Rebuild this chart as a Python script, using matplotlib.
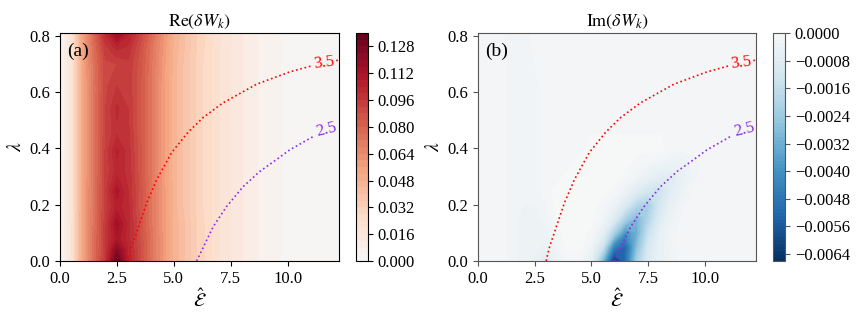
import numpy as np
import matplotlib
matplotlib.use("Agg")
import matplotlib.pyplot as plt
from matplotlib.colors import ListedColormap

plt.rcParams['font.family'] = ['Liberation Serif', 'DejaVu Serif']
plt.rcParams['mathtext.fontset'] = 'stix'

# ---------------- data ----------------
# Re(dW_k) grid
re_x = [0.0, 0.5, 1.0, 1.5, 2.0, 2.5, 3.0, 3.5, 4.0, 4.5, 5.0, 6.0, 7.0, 8.0, 9.0, 10.0, 12.25]
re_lam = [0.0, 0.04, 0.08, 0.13, 0.19, 0.25, 0.32, 0.39, 0.46, 0.54, 0.62, 0.70, 0.76, 0.81]
re_vals = [
    [0.001, 0.018, 0.053, 0.075, 0.097, 0.134, 0.104, 0.089, 0.074, 0.060, 0.047, 0.032, 0.020, 0.012, 0.006, 0.003, 0.001],
    [0.001, 0.018, 0.053, 0.075, 0.096, 0.122, 0.103, 0.089, 0.074, 0.060, 0.047, 0.032, 0.020, 0.012, 0.006, 0.003, 0.001],
    [0.001, 0.018, 0.053, 0.075, 0.096, 0.110, 0.102, 0.088, 0.074, 0.060, 0.047, 0.032, 0.020, 0.012, 0.006, 0.003, 0.001],
    [0.001, 0.018, 0.053, 0.074, 0.095, 0.115, 0.102, 0.088, 0.073, 0.059, 0.047, 0.032, 0.020, 0.012, 0.006, 0.003, 0.001],
    [0.001, 0.018, 0.052, 0.074, 0.094, 0.106, 0.101, 0.087, 0.073, 0.059, 0.046, 0.031, 0.020, 0.012, 0.006, 0.003, 0.001],
    [0.001, 0.018, 0.052, 0.074, 0.094, 0.110, 0.100, 0.087, 0.073, 0.059, 0.046, 0.031, 0.020, 0.012, 0.006, 0.003, 0.001],
    [0.001, 0.018, 0.052, 0.073, 0.093, 0.102, 0.099, 0.086, 0.072, 0.058, 0.046, 0.031, 0.020, 0.012, 0.006, 0.003, 0.001],
    [0.001, 0.018, 0.052, 0.073, 0.093, 0.105, 0.098, 0.086, 0.072, 0.058, 0.046, 0.031, 0.020, 0.012, 0.006, 0.003, 0.001],
    [0.001, 0.018, 0.052, 0.073, 0.092, 0.099, 0.097, 0.085, 0.072, 0.058, 0.046, 0.031, 0.020, 0.012, 0.006, 0.003, 0.001],
    [0.001, 0.018, 0.052, 0.073, 0.092, 0.101, 0.096, 0.085, 0.072, 0.058, 0.046, 0.031, 0.020, 0.012, 0.006, 0.003, 0.001],
    [0.001, 0.018, 0.052, 0.073, 0.091, 0.096, 0.095, 0.085, 0.072, 0.058, 0.046, 0.031, 0.020, 0.012, 0.006, 0.003, 0.001],
    [0.001, 0.018, 0.052, 0.074, 0.091, 0.092, 0.095, 0.086, 0.073, 0.059, 0.046, 0.031, 0.020, 0.012, 0.006, 0.003, 0.001],
    [0.001, 0.018, 0.053, 0.076, 0.095, 0.102, 0.099, 0.088, 0.074, 0.060, 0.047, 0.032, 0.020, 0.012, 0.006, 0.003, 0.001],
    [0.001, 0.019, 0.055, 0.079, 0.101, 0.118, 0.105, 0.092, 0.077, 0.062, 0.048, 0.032, 0.021, 0.012, 0.006, 0.003, 0.001],
]

# Im(dW_k) grid, in units of 1e-4
im_unit = 1e-4
im_x = [0.0, 1.0, 1.5, 2.0, 2.5, 3.0, 3.5, 4.0, 4.5, 5.0, 5.5, 6.0, 6.5, 7.0, 7.5, 8.0, 8.5, 9.0, 9.5, 10.0, 11.0, 12.25]
im_lam = [0.0, 0.05, 0.10, 0.15, 0.20, 0.25, 0.30, 0.35, 0.40, 0.50, 0.60, 0.81]
im_vals = [
    [-1.5, -1.5, -2.5, -3.5, -4.5, -9.0, -4.0, -2.0, -2.0, -6.0, -30.0, -65.0, -50.0, -22.0, -9.0, -5.0, -3.0, -1.5, -1.5, -1.5, -1.5, -1.5],
    [-1.5, -1.5, -2.5, -3.5, -3.5, -4.5, -2.0, -0.5, -0.5, -3.0, -14.0, -45.0, -52.0, -28.0, -11.0, -5.0, -2.5, -1.5, -1.5, -1.5, -1.5, -1.5],
    [-1.5, -1.5, -2.5, -3.5, -3.5, -3.5, -1.5, -0.5, -0.5, -1.5, -6.0, -22.0, -40.0, -32.0, -15.0, -6.0, -2.5, -1.5, -1.5, -1.5, -1.5, -1.5],
    [-1.5, -1.5, -2.5, -3.5, -3.5, -2.5, -0.5, -0.5, -0.5, -0.5, -2.5, -9.0, -22.0, -30.0, -20.0, -9.0, -4.0, -1.5, -1.5, -1.5, -1.5, -1.5],
    [-1.5, -1.5, -2.5, -3.0, -3.0, -2.0, -0.5, -0.5, -0.5, -0.5, -1.5, -4.0, -10.0, -19.0, -22.0, -12.0, -5.0, -2.5, -1.5, -1.5, -1.5, -1.5],
    [-1.5, -1.5, -2.5, -2.5, -2.5, -1.5, -0.5, -0.5, -0.5, -0.5, -0.5, -1.5, -4.0, -8.0, -12.0, -14.0, -8.0, -4.0, -1.5, -1.5, -1.5, -1.5],
    [-1.5, -1.5, -2.5, -2.5, -2.5, -1.5, -1.5, -0.5, -0.5, -0.5, -0.5, -0.5, -1.5, -3.0, -5.0, -7.0, -8.0, -5.0, -2.5, -1.5, -1.5, -1.5],
    [-1.5, -1.5, -2.5, -2.5, -2.5, -1.5, -1.5, -1.5, -0.5, -0.5, -0.5, -0.5, -0.5, -1.5, -2.0, -3.0, -4.0, -4.0, -2.5, -1.5, -1.5, -1.5],
    [-1.5, -1.5, -2.5, -2.5, -2.5, -1.5, -1.5, -1.5, -1.5, -0.5, -0.5, -0.5, -0.5, -0.5, -0.5, -0.5, -1.5, -1.5, -1.5, -1.5, -1.5, -1.5],
    [-1.5, -1.5, -2.5, -2.5, -2.5, -1.5, -1.5, -1.5, -1.5, -1.5, -1.5, -1.5, -1.5, -1.5, -1.5, -1.5, -1.5, -1.5, -1.5, -1.5, -1.5, -1.5],
    [-1.5, -1.5, -2.5, -2.5, -2.5, -1.5, -1.5, -1.5, -1.5, -1.5, -1.5, -1.5, -1.5, -1.5, -1.5, -1.5, -1.5, -1.5, -1.5, -1.5, -1.5, -1.5],
    [-1.5, -1.5, -2.5, -2.5, -1.5, -1.5, -1.5, -1.5, -1.5, -1.5, -1.5, -1.5, -1.5, -1.5, -1.5, -1.5, -1.5, -1.5, -1.5, -1.5, -1.5, -1.5],
]

# level curves (dotted), E-hat vs lambda
c35_x = [3.0, 3.15, 3.36, 3.8, 4.24, 4.9, 5.63, 6.29, 7.16, 8.63, 10.09, 11.04, 12.13, 12.25]
c35_y = [0.0, 0.05, 0.10, 0.205, 0.288, 0.385, 0.458, 0.510, 0.562, 0.628, 0.672, 0.693, 0.712, 0.714]
c25_x = [6.0, 6.3, 6.73, 7.31, 8.04, 8.77, 9.5, 10.09, 11.18, 12.25]
c25_y = [0.0, 0.05, 0.122, 0.193, 0.264, 0.318, 0.36, 0.395, 0.445, 0.48]

re_ticks = [0.000, 0.016, 0.032, 0.048, 0.064, 0.080, 0.096, 0.112, 0.128]
im_ticks = [0.0, -0.0008, -0.0016, -0.0024, -0.0032, -0.0040, -0.0048, -0.0056, -0.0064]
x_ticks = [0.0, 2.5, 5.0, 7.5, 10.0]
y_ticks = [0.0, 0.2, 0.4, 0.6, 0.8]

# ---------------- drawing ----------------
base = plt.get_cmap('RdBu_r')
cmap_re = ListedColormap(base(np.linspace(0.5, 1.0, 256)))
cmap_im = ListedColormap(base(np.linspace(0.0, 0.5, 256)))

fig = plt.figure(figsize=(8.59, 3.19), dpi=100)
ax1 = fig.add_axes([0.0698, 0.1818, 0.3248, 0.7147])
cax1 = fig.add_axes([0.4144, 0.1818, 0.0140, 0.7147])
ax2 = fig.add_axes([0.5565, 0.1818, 0.3236, 0.7147])
cax2 = fig.add_axes([0.8999, 0.1818, 0.0140, 0.7147])

lev_re = np.linspace(0.0, 0.136, 35)
lev_im = np.linspace(-0.0066, 0.0, 67)

cs1 = ax1.contourf(re_x, re_lam, np.array(re_vals), levels=lev_re, cmap=cmap_re)
cs2 = ax2.contourf(im_x, im_lam, np.array(im_vals) * im_unit, levels=lev_im, cmap=cmap_im)

c35_x = np.array(c35_x); c35_y = np.array(c35_y)
c25_x = np.array(c25_x); c25_y = np.array(c25_y)

for ax, label in [(ax1, '(a)'), (ax2, '(b)')]:
    m = c35_x <= 11.05
    ax.plot(c35_x[m], c35_y[m], ls=':', color='red', lw=1.2)
    m = c35_x >= 12.1
    ax.plot(c35_x[m], c35_y[m], ls=':', color='red', lw=1.2)
    m = c25_x <= 11.2
    ax.plot(c25_x[m], c25_y[m], ls=':', color='#8a2be2', lw=1.2)
    ax.text(11.58, 0.703, '3.5', color='red', fontsize=12, rotation=7,
            ha='center', va='center')
    ax.text(11.72, 0.468, '2.5', color='#8a2be2', fontsize=12, rotation=14,
            ha='center', va='center')
    ax.text(0.025, 0.92, label, transform=ax.transAxes, fontsize=14,
            ha='left', va='center')
    ax.set_xlim(0, 12.25)
    ax.set_ylim(0, 0.81)
    ax.set_xticks(x_ticks)
    ax.set_yticks(y_ticks)
    ax.tick_params(labelsize=12)
    ax.set_xlabel(r'$\hat{\mathcal{E}}$', fontsize=14, labelpad=1)
    ax.set_ylabel(r'$\lambda$', fontsize=14, labelpad=3)

ax1.set_title(r'$\mathrm{Re}(\delta W_k)$', fontsize=13, pad=5)
ax2.set_title(r'$\mathrm{Im}(\delta W_k)$', fontsize=13, pad=5)
for sp in ax2.spines.values():
    sp.set_color('#555555')
ax2.tick_params(color='#555555')

cb1 = fig.colorbar(cs1, cax=cax1)
cb1.set_ticks(re_ticks)
cb1.set_ticklabels([f'{t:.3f}' for t in re_ticks])
cb1.ax.tick_params(labelsize=12)

cb2 = fig.colorbar(cs2, cax=cax2)
cb2.set_ticks(im_ticks)
cb2.set_ticklabels([f'{t:.4f}'.replace('-', '\u2212') if t != 0 else '0.0000' for t in im_ticks])
cb2.ax.tick_params(labelsize=12, color='#555555')
cb2.outline.set_edgecolor('#555555')

fig.savefig('out.png', dpi=100)
